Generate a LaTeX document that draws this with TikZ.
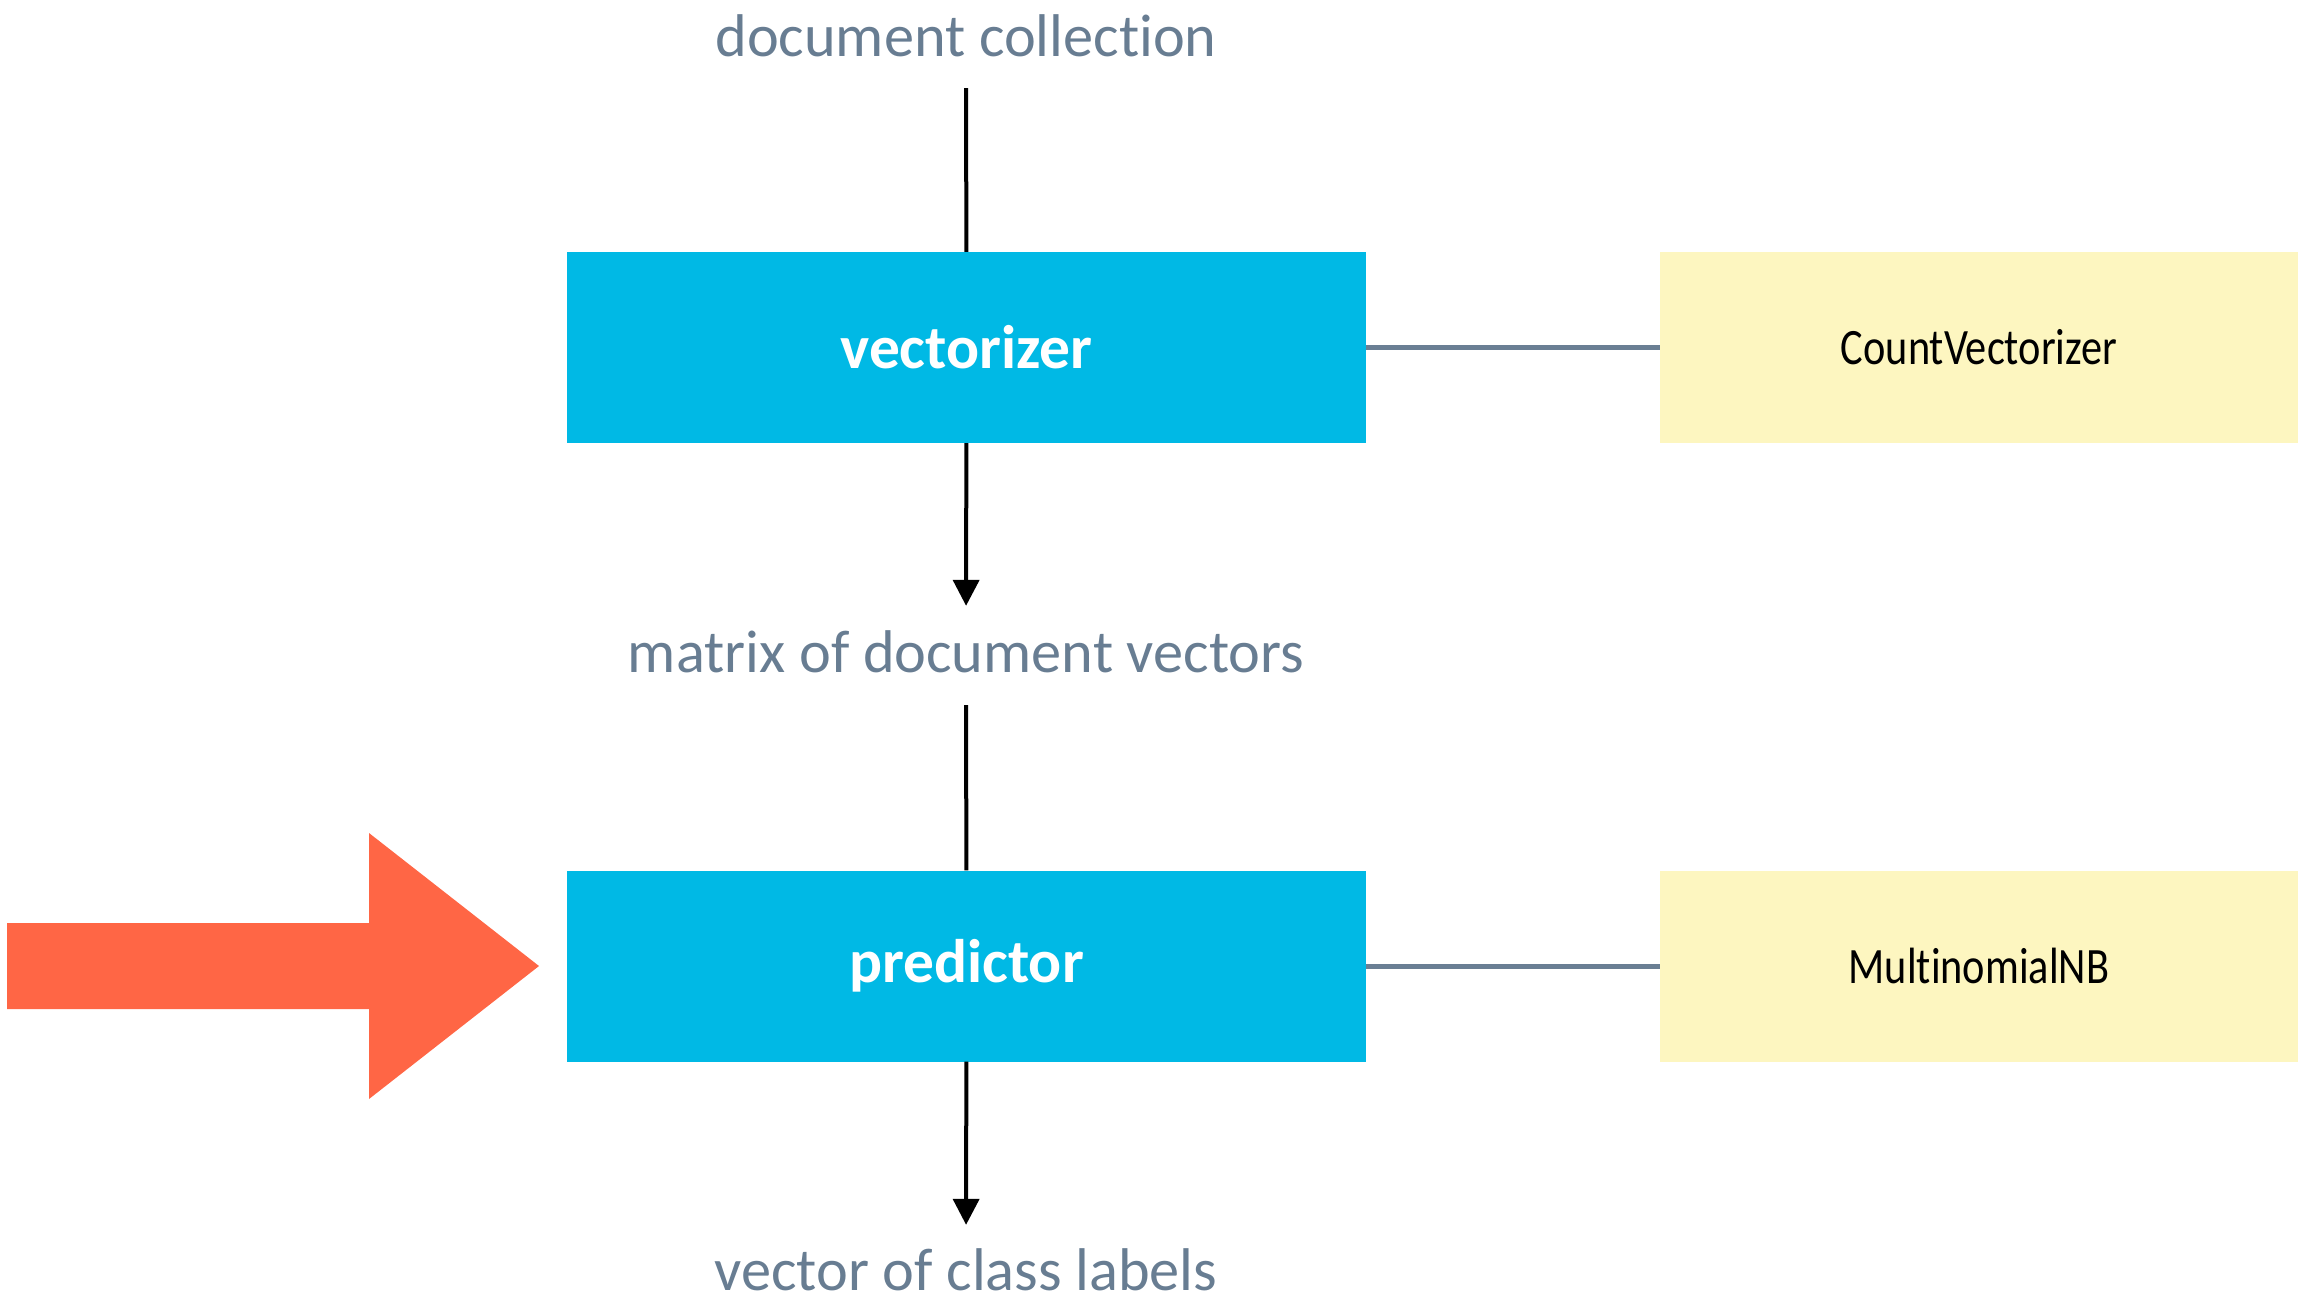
\documentclass[tikz,border=0pt]{standalone}
\usepackage{fontspec}
\usepackage{graphicx}
\setmainfont{Carlito}[Ligatures=NoCommon]
\usetikzlibrary{arrows.meta}
\definecolor{boxblue}{RGB}{0,185,229}
\definecolor{boxyellow}{RGB}{253,246,192}
\definecolor{labelgray}{RGB}{104,125,146}
\definecolor{linegray}{RGB}{106,127,148}
\definecolor{bigorange}{RGB}{255,102,69}
\tikzset{
  stage/.style={rectangle, fill=boxblue, draw=none, inner sep=0pt,
    minimum width=799pt, minimum height=191pt, text=white,
    font=\fontsize{61.5}{70}\selectfont\bfseries},
  impl/.style={rectangle, fill=boxyellow, draw=none, inner sep=0pt,
    minimum width=638pt, minimum height=191pt, text=black,
    font=\fontsize{51}{60}\selectfont},
  datalabel/.style={anchor=base, inner sep=0pt, text height=44pt, text depth=0pt,
    text=labelgray, font=\fontsize{60.3}{70}\selectfont},
  flow/.style={line width=4pt, draw=black},
  flowarrow/.style={flow, -{Triangle[width=26pt,length=26pt]}},
  link/.style={line width=5pt, draw=linegray}
}
\begin{document}
\begin{tikzpicture}[x=1pt,y=-1pt]
\useasboundingbox (0,0) rectangle (2298,1302);
\node[datalabel] (doc) at (966,56) {document collection};
\node[stage] (vec) at (966.5,347.5) {vectorizer};
\node[impl] (cv) at (1979,347.5) {\scalebox{0.83}[1]{CountVectorizer}};
\node[datalabel] (mat) at (966,672) {matrix of document vectors};
\node[stage] (pred) at (966.5,966) {predictor};
\node[impl] (mnb) at (1979,966) {\scalebox{0.83}[1]{MultinomialNB}};
\node[datalabel] (out) at (966,1290) {vector of class labels};

\draw[flow, shorten <=32pt] (doc) -- (vec);
\draw[flowarrow, shorten >=22pt] (vec) -- (mat);
\draw[flow, shorten <=33pt] (mat) -- (pred);
\draw[flowarrow, shorten >=21pt] (pred) -- (out);
\draw[link] (vec) -- (cv);
\draw[link] (pred) -- (mnb);

\fill[bigorange] (7,923) -- (369,923) -- (369,833) -- (539,966) -- (369,1099) -- (369,1009) -- (7,1009) -- cycle;
\end{tikzpicture}
\end{document}
